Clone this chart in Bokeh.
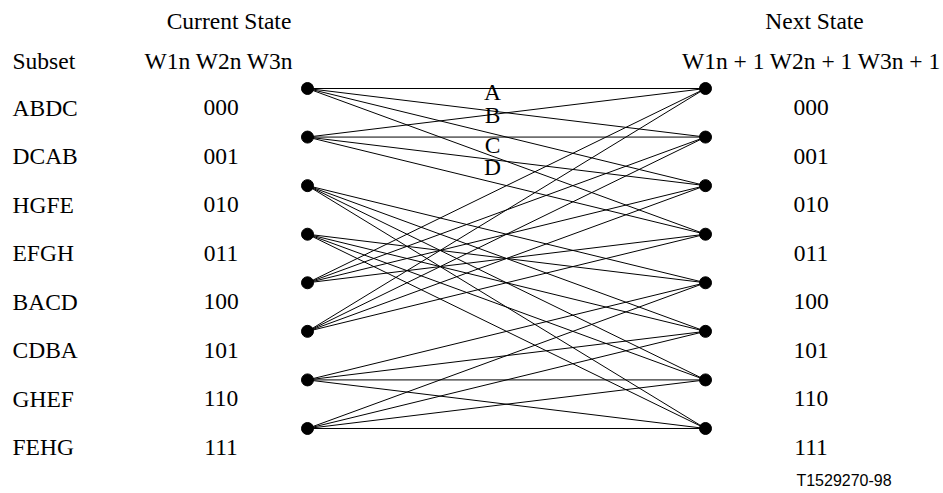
from bokeh.plotting import figure
from bokeh.models import Range1d
from bokeh.core.properties import value
from bokeh.embed import file_html
from bokeh.resources import INLINE

# ---- data ----
subsets = ["ABDC", "DCAB", "HGFE", "EFGH", "BACD", "CDBA", "GHEF", "FEHG"]
states = ["000", "001", "010", "011", "100", "101", "110", "111"]
edge_from = [0, 0, 0, 0, 1, 1, 1, 1, 2, 2, 2, 2, 3, 3, 3, 3,
             4, 4, 4, 4, 5, 5, 5, 5, 6, 6, 6, 6, 7, 7, 7, 7]
edge_to = [0, 1, 2, 3, 0, 1, 2, 3, 4, 5, 6, 7, 4, 5, 6, 7,
           0, 1, 2, 3, 0, 1, 2, 3, 4, 5, 6, 7, 4, 5, 6, 7]
branch_labels = ["A", "B", "C", "D"]
title_current = "Current State"
title_next = "Next State"
col_subset = "Subset"
col_current = "W1n W2n W3n"
col_next = "W1n + 1 W2n + 1 W3n + 1"
figure_id = "T1529270-98"

# ---- layout ----
W, H = 943, 493
Y0 = 88.0        # pixel y of state 0
STEP = 48.57     # pixels per state
TXT = 8          # text baseline correction


def sy(py):
    return (py - Y0) / STEP


def ty(py):
    return sy(py - TXT)


XL, XR = 307, 705
serif = value("Liberation Serif")
sans = value("Liberation Sans")
FS = "23.5px"

p = figure(width=W, height=H, output_backend="svg", toolbar_location=None,
           x_range=Range1d(0, W), y_range=Range1d(sy(H), sy(0)),
           min_border=0)
p.axis.visible = False
p.grid.visible = False
p.outline_line_color = None
p.background_fill_color = "white"
p.border_fill_color = "white"

# edges
p.segment(x0=[XL] * len(edge_from), y0=edge_from, x1=[XR] * len(edge_to), y1=edge_to,
          line_color="black", line_width=1)

# nodes
idx = list(range(len(states)))
p.scatter(x=[XL] * len(idx), y=idx, size=12, color="black")
p.scatter(x=[XR] * len(idx), y=idx, size=12, color="black")

row_y = [ty(115 + STEP * i) for i in idx]

common = dict(text_font=serif, text_font_size=FS, text_baseline="alphabetic",
              text_color="black")

p.text(x=[12] * len(subsets), y=row_y, text=subsets, text_align="left", **common)
p.text(x=[220.5] * len(states), y=row_y, text=states, text_align="center", **common)
p.text(x=[810.5] * len(states), y=row_y, text=states, text_align="center", **common)

# headers
p.text(x=[228.5, 814], y=[ty(28), ty(28)], text=[title_current, title_next],
       text_align="center", **common)
p.text(x=[12], y=[ty(68)], text=[col_subset], text_align="left", **common)
p.text(x=[218.5, 811], y=[ty(68), ty(68)], text=[col_current, col_next],
       text_align="center", **common)

# branch labels
p.text(x=[492] * 4, y=[ty(99), ty(122), ty(152), ty(174)], text=branch_labels,
       text_align="center", **common)

# figure id
p.text(x=[843.5], y=[ty(488)], text=[figure_id], text_font=sans,
       text_font_size="16px", text_align="center", text_baseline="alphabetic",
       text_color="black")

open("out.html", "w").write(file_html(p, INLINE))
